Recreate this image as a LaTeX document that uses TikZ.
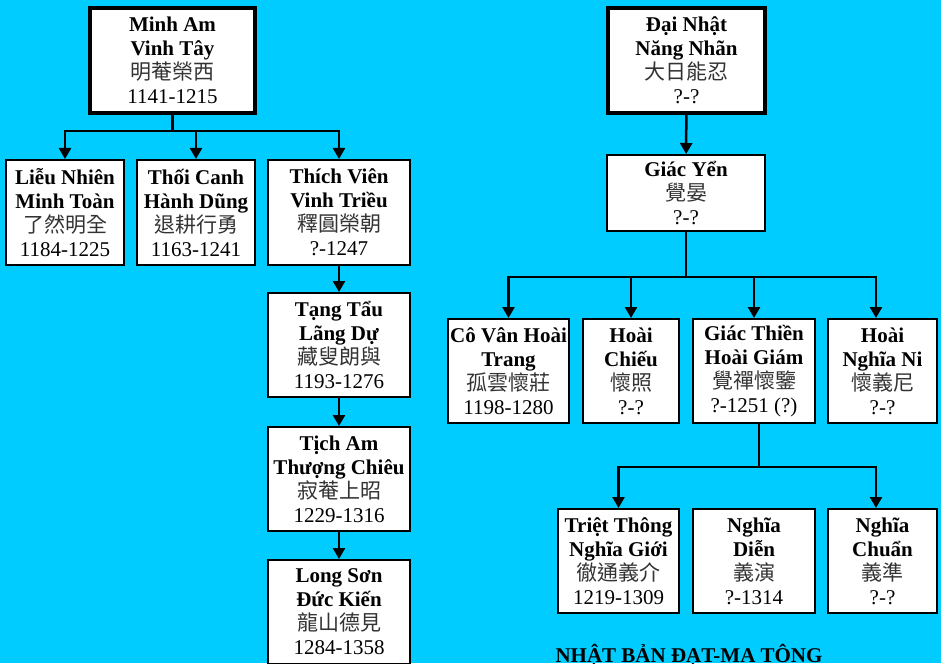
\documentclass[tikz,border=0pt]{standalone}
\usepackage{fontspec}
\setmainfont{Liberation Serif}
\newfontfamily\cjk{Noto Sans CJK TC}
\usepackage{tikz}
\usetikzlibrary{arrows.meta}
\definecolor{skycyan}{RGB}{0,204,255}

\begin{document}
\begin{tikzpicture}[x=1pt,y=-1pt,
    >={Triangle[width=12pt,length=11pt]},
    link/.style={line width=2.5pt},
    han/.style={font=\cjk,text=black!80},
    monk/.style={draw,fill=white,line width=2pt,align=center,inner sep=0pt,
        font=\fontsize{21}{24}\selectfont,minimum height=104pt},
    head/.style={monk,line width=3.5pt,minimum height=105pt}]
        \useasboundingbox (0,0) rectangle (941,663);
        \fill[skycyan] (0,0) rectangle (941,663);

          \node[head,minimum width=165pt] (minham) at (172.5,60.5) {\textbf{Minh Am}\\\textbf{Vinh Tây}\\{\cjk\color{black!80}明菴榮西}\\1141-1215};
          \node[monk,minimum width=118pt,minimum height=105pt] (lieu) at (65,212.5) {\textbf{Liễu Nhiên}\\\textbf{Minh Toàn}\\{\cjk\color{black!80}了然明全}\\1184-1225};
          \node[monk,minimum width=118pt,minimum height=105pt] (thoi) at (196,212.5) {\textbf{Thối Canh}\\\textbf{Hành Dũng}\\{\cjk\color{black!80}退耕行勇}\\1163-1241};
          \node[monk,minimum width=142pt,minimum height=105pt] (thich) at (339,212.5) {\textbf{Thích Viên}\\\textbf{Vinh Triều}\\{\cjk\color{black!80}釋圓榮朝}\\?-1247};
          \node[monk,minimum width=142pt] (tang) at (339,345) {\textbf{Tạng Tẩu}\\\textbf{Lãng Dự}\\{\cjk\color{black!80}藏叟朗與}\\1193-1276};
          \node[monk,minimum width=142pt] (tich) at (339,479) {\textbf{Tịch Am}\\\textbf{Thượng Chiêu}\\{\cjk\color{black!80}寂菴上昭}\\1229-1316};
          \node[monk,minimum width=142pt] (longson) at (339,612) {\textbf{Long Sơn}\\\textbf{Đức Kiến}\\{\cjk\color{black!80}龍山德見}\\1284-1358};

          \node[head,minimum width=157pt] (dainhat) at (686.5,60.5) {\textbf{Đại Nhật}\\\textbf{Năng Nhãn}\\{\cjk\color{black!80}大日能忍}\\?-?};
          \node[monk,minimum width=158pt,minimum height=76pt] (giacyen) at (686,193) {\textbf{Giác Yển}\\{\cjk\color{black!80}覺晏}\\?-?};
          \node[monk,minimum width=121pt] (covan) at (508.5,371) {\textbf{Cô Vân Hoài}\\\textbf{Trang}\\{\cjk\color{black!80}孤雲懷莊}\\1198-1280};
          \node[monk,minimum width=96pt] (hoaichieu) at (631,371) {\textbf{Hoài}\\\textbf{Chiếu}\\{\cjk\color{black!80}懷照}\\?-?};
          \node[monk,minimum width=122pt] (giacthien) at (754,371) {\textbf{Giác Thiền}\\\textbf{Hoài Giám}\\{\cjk\color{black!80}覺禪懷鑒}\\?-1251 (?)};
          \node[monk,minimum width=109pt] (hoainghia) at (882.5,371) {\textbf{Hoài}\\\textbf{Nghĩa Ni}\\{\cjk\color{black!80}懷義尼}\\?-?};
          \node[monk,minimum width=121pt] (triet) at (618.5,561) {\textbf{Triệt Thông}\\\textbf{Nghĩa Giới}\\{\cjk\color{black!80}徹通義介}\\1219-1309};
          \node[monk,minimum width=122pt] (nghiadien) at (754,561) {\textbf{Nghĩa}\\\textbf{Diễn}\\{\cjk\color{black!80}義演}\\?-1314};
          \node[monk,minimum width=109pt] (nghiachuan) at (882.5,561) {\textbf{Nghĩa}\\\textbf{Chuẩn}\\{\cjk\color{black!80}義準}\\?-?};

          \node[anchor=base,font=\bfseries\fontsize{21}{24}\selectfont] (title) at (689,662) {NHẬT BẢN ĐẠT-MA TÔNG};

          \coordinate (lbus) at (172.5,131);
          \coordinate (rbus) at (686,277);
          \coordinate (sbus) at (759,467);

            \draw[link] (minham) -- (lbus);
              \draw[link,->] (lbus) -| (lieu);
              \draw[link,->] (lbus) -| (thoi);
              \draw[link,->] (lbus) -| (thich);
            \draw[link,->] (thich) -- (tang);
            \draw[link,->] (tang) -- (tich);
            \draw[link,->] (tich) -- (longson);

            \draw[link,->] (dainhat) -- (giacyen);
            \draw[link] (giacyen) -- (rbus);
              \draw[link,->] (rbus) -| (covan);
              \draw[link,->] (rbus) -| (hoaichieu);
              \draw[link,->] (rbus) -| (giacthien);
              \draw[link,->] (rbus) -| ([xshift=-6.5pt]hoainghia.north);
            \draw[link] ([xshift=5pt]giacthien.south) -- (sbus);
              \draw[link,->] (sbus) -| (triet);
              \draw[link,->] (sbus) -| ([xshift=-6.5pt]nghiachuan.north);
\end{tikzpicture}
\end{document}
